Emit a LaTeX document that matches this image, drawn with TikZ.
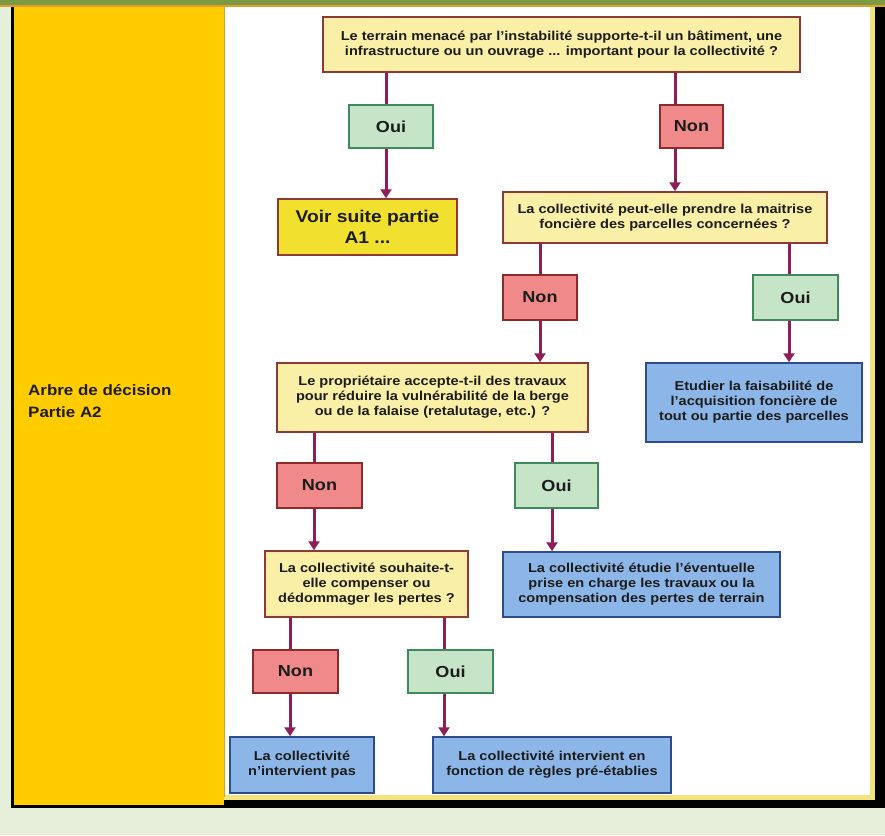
\documentclass[tikz,border=0pt]{standalone}
\usepackage{fontspec}
\setmainfont{Liberation Sans}[FakeStretch=1.13]
\usepackage{tikz}
\usetikzlibrary{arrows.meta}

\definecolor{bggreen}{HTML}{E6EFDA}
\definecolor{bargreen}{HTML}{7C9A42}
\definecolor{barline}{HTML}{E0A030}
\definecolor{colyellow}{HTML}{FFCC00}
\definecolor{rimyellow}{HTML}{F2E47A}
\definecolor{qfill}{HTML}{F9EFA6}
\definecolor{qdraw}{HTML}{8E3A34}
\definecolor{voirfill}{HTML}{F1E12E}
\definecolor{ouifill}{HTML}{C6E4C8}
\definecolor{ouidraw}{HTML}{3E8A5C}
\definecolor{nonfill}{HTML}{F08A8A}
\definecolor{nondraw}{HTML}{8E2A2A}
\definecolor{endfill}{HTML}{8DB6E8}
\definecolor{enddraw}{HTML}{2C4C8C}
\definecolor{linkcol}{HTML}{8E1E58}
\definecolor{ink}{HTML}{1C1C1C}

\begin{document}
\begin{tikzpicture}[x=1pt,y=-1pt,
  box/.style={draw, line width=1.5pt, inner sep=0pt, align=center, text=ink,
    font=\bfseries\fontsize{12.9}{15}\selectfont},
  question/.style={box, fill=qfill, draw=qdraw},
  voirbox/.style={box, fill=voirfill, draw=qdraw, font=\bfseries\fontsize{17}{21}\selectfont},
  ouibox/.style={box, fill=ouifill, draw=ouidraw, font=\bfseries\fontsize{16}{18}\selectfont},
  nonbox/.style={box, fill=nonfill, draw=nondraw, font=\bfseries\fontsize{16}{18}\selectfont},
  issue/.style={box, fill=endfill, draw=enddraw},
  link/.style={linkcol, line width=3pt},
  arr/.style={link, -{Triangle[length=9pt,width=11pt]}}]
\useasboundingbox (0,0) rectangle (885,835);
% frame and left column
\fill[bggreen] (0,0) rectangle (885,835);
\fill[bargreen] (0,0) rectangle (885,5);
\fill[barline] (0,5) rectangle (885,6.5);
\fill[black] (11,6.5) rectangle (885,808);
\fill[colyellow] (14,6.5) rectangle (224,805);
\fill[white] (224,6.5) rectangle (875,800);
\draw[rimyellow, line width=5pt] (872.5,6.5) -- (872.5,797.5) -- (224,797.5);
\draw[barline, line width=1pt] (224,6.5) -- (224,797);
\node[anchor=north west, align=left, text=ink, inner sep=0pt,
  font=\bfseries\fontsize{15}{22}\selectfont] (titre) at (28,384)
  {Arbre de décision\\Partie A2};

% questions and answers
\node[question, minimum width=477pt, minimum height=55pt] (q1) at (561.5,44.5)
  {Le terrain menacé par l’instabilité supporte-t-il un bâtiment, une\\infrastructure ou un ouvrage ... important pour la collectivité ?};
\node[ouibox, minimum width=84pt, minimum height=43pt] (oui1) at (391,126.5) {Oui};
\node[nonbox, minimum width=63pt, minimum height=43pt] (non1) at (691.5,126.5) {Non};
\node[voirbox, minimum width=179pt, minimum height=56pt] (voir) at (367.5,227)
  {Voir suite partie\\A1 ...};
\node[question, minimum width=324pt, minimum height=51pt] (q2) at (665,217.5)
  {La collectivité peut-elle prendre la maitrise\\foncière des parcelles concernées ?};
\node[nonbox, minimum width=74pt, minimum height=45pt] (non2) at (540,297.5) {Non};
\node[ouibox, minimum width=85pt, minimum height=45pt] (oui2) at (795.5,297.5) {Oui};
\node[question, minimum width=311pt, minimum height=69pt] (q3) at (432.5,397.5)
  {Le propriétaire accepte-t-il des travaux\\pour réduire la vulnérabilité de la berge\\ou de la falaise (retalutage, etc.) ?};
\node[issue, minimum width=216pt, minimum height=79pt] (etudier) at (754,402.5)
  {Etudier la faisabilité de\\l’acquisition foncière de\\tout ou partie des parcelles};
\node[nonbox, minimum width=85pt, minimum height=45pt] (non3) at (319.5,485.5) {Non};
\node[ouibox, minimum width=83pt, minimum height=45pt] (oui3) at (556.5,485.5) {Oui};
\node[question, minimum width=203pt, minimum height=66pt] (q4) at (366.5,584)
  {La collectivité souhaite-t-\\elle compenser ou\\dédommager les pertes ?};
\node[issue, minimum width=277pt, minimum height=65pt] (etude) at (641.5,584.5)
  {La collectivité étudie l’éventuelle\\prise en charge les travaux ou la\\compensation des pertes de terrain};
\node[nonbox, minimum width=85pt, minimum height=43pt] (non4) at (295.5,671.5) {Non};
\node[ouibox, minimum width=85pt, minimum height=43pt] (oui4) at (450.5,671.5) {Oui};
\node[issue, minimum width=144pt, minimum height=56pt] (fin1) at (302,765)
  {La collectivité\\n’intervient pas};
\node[issue, minimum width=238pt, minimum height=56pt] (fin2) at (552,765)
  {La collectivité intervient en\\fonction de règles pré-établies};

% connectors
\draw[link] ([xshift=-5pt]oui1.north |- q1.south) -- ([xshift=-5pt]oui1.north);
\draw[arr] ([xshift=-5pt]oui1.south) -- ([xshift=-5pt]oui1.south |- voir.north);
\draw[link] ([xshift=-16.5pt]non1.north |- q1.south) -- ([xshift=-16.5pt]non1.north);
\draw[arr] ([xshift=-16.5pt]non1.south) -- ([xshift=-16.5pt]non1.south |- q2.north);
\draw[link] (non2.north |- q2.south) -- (non2.north);
\draw[arr] (non2.south) -- (non2.south |- q3.north);
\draw[link] ([xshift=-6.5pt]oui2.north |- q2.south) -- ([xshift=-6.5pt]oui2.north);
\draw[arr] ([xshift=-6.5pt]oui2.south) -- ([xshift=-6.5pt]oui2.south |- etudier.north);
\draw[link] ([xshift=-5.5pt]non3.north |- q3.south) -- ([xshift=-5.5pt]non3.north);
\draw[arr] ([xshift=-5.5pt]non3.south) -- ([xshift=-5.5pt]non3.south |- q4.north);
\draw[link] ([xshift=-4.5pt]oui3.north |- q3.south) -- ([xshift=-4.5pt]oui3.north);
\draw[arr] ([xshift=-4.5pt]oui3.south) -- ([xshift=-4.5pt]oui3.south |- etude.north);
\draw[link] ([xshift=-5.5pt]non4.north |- q4.south) -- ([xshift=-5.5pt]non4.north);
\draw[arr] ([xshift=-5.5pt]non4.south) -- ([xshift=-5.5pt]non4.south |- fin1.north);
\draw[link] ([xshift=-6.5pt]oui4.north |- q4.south) -- ([xshift=-6.5pt]oui4.north);
\draw[arr] ([xshift=-6.5pt]oui4.south) -- ([xshift=-6.5pt]oui4.south |- fin2.north);
\end{tikzpicture}
\end{document}
